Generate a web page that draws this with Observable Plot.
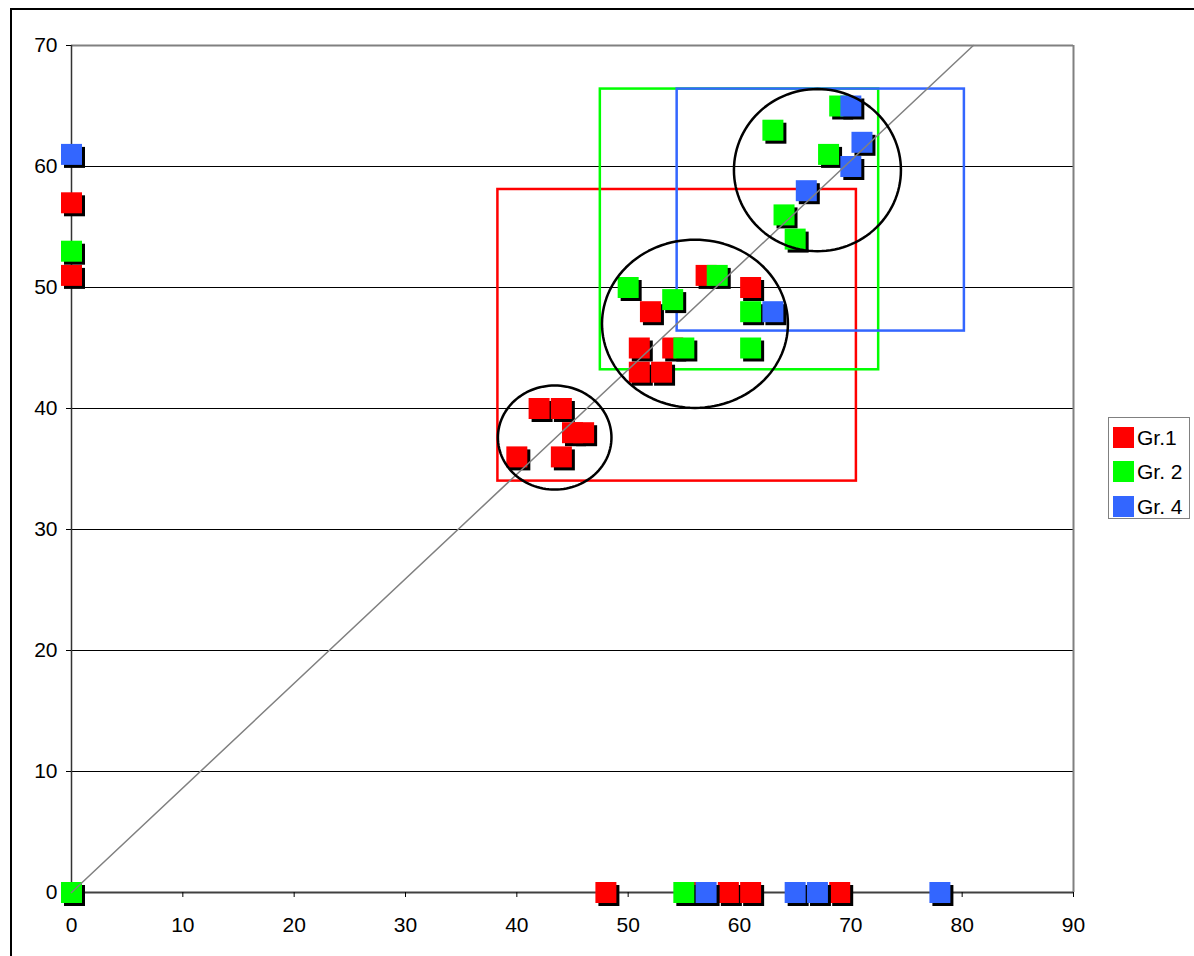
<!DOCTYPE html>
<html>
<head>
<meta charset="utf-8">
<script src="https://cdn.jsdelivr.net/npm/d3@7"></script>
<script src="https://cdn.jsdelivr.net/npm/@observablehq/plot@0.6"></script>
<style>
  html, body { margin: 0; padding: 0; background: #fff; }
  #wrap { position: relative; width: 1194px; height: 956px; overflow: hidden; font-family: "Liberation Sans", Arial, sans-serif; }
  #frame { position: absolute; left: 10px; top: 8px; width: 1300px; height: 1100px; border-left: 2px solid #000; border-top: 2px solid #000; }
  #chart { position: absolute; left: 0; top: 0; }
  #legend { position: absolute; left: 1108px; top: 417px; width: 82px; height: 102px; border: 1px solid #808080; background: #fff; box-sizing: border-box; }
  .item { position: absolute; left: 4px; height: 21px; display: flex; align-items: center; font-size: 21px; color: #000; white-space: nowrap; }
  .sw { width: 21px; height: 21px; margin-right: 3px; }
</style>
</head>
<body>
<div id="wrap">
  <div id="frame"></div>
  <div id="chart"></div>
  <div id="legend"></div>
</div>
<script>
// ---- data ----
const groups = ["Gr.1", "Gr. 2", "Gr. 4"];
const colors = ["#ff0000", "#00ff00", "#3366ff"];

const gr1X = [0, 0, 48, 56, 59, 61, 69, 42, 44, 45, 46, 40, 44, 52, 57, 61, 51, 54, 51, 53];
const gr1Y = [57, 51, 0, 0, 0, 0, 0, 40, 40, 38, 38, 36, 36, 48, 51, 50, 45, 45, 43, 43];

const gr2X = [0, 0, 55, 50, 54, 58, 61, 55, 61, 69, 63, 68, 64, 65];
const gr2Y = [53, 0, 0, 50, 49, 51, 48, 45, 45, 65, 63, 61, 56, 54];

const gr4X = [0, 57, 65, 67, 78, 63, 70, 71, 70, 66];
const gr4Y = [61, 0, 0, 0, 0, 48, 65, 62, 60, 58];

const xTicks = [0, 10, 20, 30, 40, 50, 60, 70, 80, 90];
const yTicks = [0, 10, 20, 30, 40, 50, 60, 70];

// group boxes (data units): x1, x2, y1, y2
const boxX1 = [38.3, 47.5, 54.4];
const boxX2 = [70.5, 72.5, 80.2];
const boxY1 = [34.0, 43.2, 46.4];
const boxY2 = [58.1, 66.4, 66.4];

// cluster ellipses (data units)
const ellCX = [43.4, 56.0, 67.0];
const ellCY = [37.6, 47.0, 59.7];
const ellRX = [5.1, 8.35, 7.5];
const ellRY = [4.3, 6.95, 6.7];

// diagonal reference line
const diagX = [0, 81];
const diagY = [0, 70];

// ---- build tables ----
const seriesX = [gr1X, gr2X, gr4X];
const seriesY = [gr1Y, gr2Y, gr4Y];
const series = groups.map((g, i) => seriesX[i].map((x, j) => ({x, y: seriesY[i][j], g, c: colors[i]})));
const boxes = groups.map((g, i) => ({x1: boxX1[i], x2: boxX2[i], y1: boxY1[i], y2: boxY2[i], c: colors[i]}));
const ellipses = [];
ellCX.forEach((cx, k) => {
  for (let a = 0; a <= 360; a += 3) {
    const t = a * Math.PI / 180;
    ellipses.push({k, x: cx + ellRX[k] * Math.cos(t), y: ellCY[k] + ellRY[k] * Math.sin(t)});
  }
});
const diag = diagX.map((x, i) => ({x, y: diagY[i]}));

const side = 21;
const r = side / Math.sqrt(Math.PI);
const font = "'Liberation Sans', Arial, sans-serif";

const marks = [
  Plot.ruleY(yTicks.filter(d => d > 0 && d < 70), {y: d => d, stroke: "#000", strokeWidth: 1}),
  Plot.ruleY([70], {stroke: "#808080", strokeWidth: 2}),
  Plot.ruleX([90], {stroke: "#808080", strokeWidth: 2}),
  Plot.ruleX([0], {stroke: "#333", strokeWidth: 1.5}),
  Plot.ruleY([0], {stroke: "#404040", strokeWidth: 2}),
  Plot.axisX({ticks: xTicks, tickSize: 5, tickPadding: 20, label: null, tickFormat: d => String(d), fontSize: 21, fontFamily: font, stroke: "#000", fill: "#000"}),
  Plot.axisY({ticks: yTicks, tickSize: 5, tickPadding: 9, label: null, tickFormat: d => String(d), fontSize: 21, fontFamily: font, stroke: "#000", fill: "#000"}),
  Plot.rect(boxes, {x1: "x1", x2: "x2", y1: "y1", y2: "y2", fill: "none", stroke: "c", strokeWidth: 2.5})
];
series.forEach(s => {
  marks.push(Plot.dot(s, {x: "x", y: "y", symbol: "square", r, fill: "#000", stroke: "none", dx: 3, dy: 3}));
  marks.push(Plot.dot(s, {x: "x", y: "y", symbol: "square", r, fill: "c", stroke: "none"}));
});
marks.push(Plot.line(diag, {x: "x", y: "y", stroke: "#808080", strokeWidth: 1.5}));
marks.push(Plot.line(ellipses, {x: "x", y: "y", z: "k", stroke: "#000", strokeWidth: 2.5, curve: "linear"}));

const chart = Plot.plot({
  width: 1194,
  height: 956,
  marginLeft: 71,
  marginRight: 121,
  marginTop: 45,
  marginBottom: 64,
  x: {domain: [0, 90]},
  y: {domain: [0, 70]},
  color: {type: "identity"},
  style: {fontFamily: font, fontSize: "21px", background: "transparent", color: "#000", overflow: "visible"},
  marks
});
document.getElementById("chart").appendChild(chart);

// ---- legend ----
const legend = document.getElementById("legend");
const itemTops = [9, 43, 78];
groups.forEach((g, i) => {
  const it = document.createElement("div");
  it.className = "item";
  it.style.top = itemTops[i] + "px";
  it.innerHTML = `<div class="sw" style="background:${colors[i]}"></div><span>${g}</span>`;
  legend.appendChild(it);
});
</script>
</body>
</html>
